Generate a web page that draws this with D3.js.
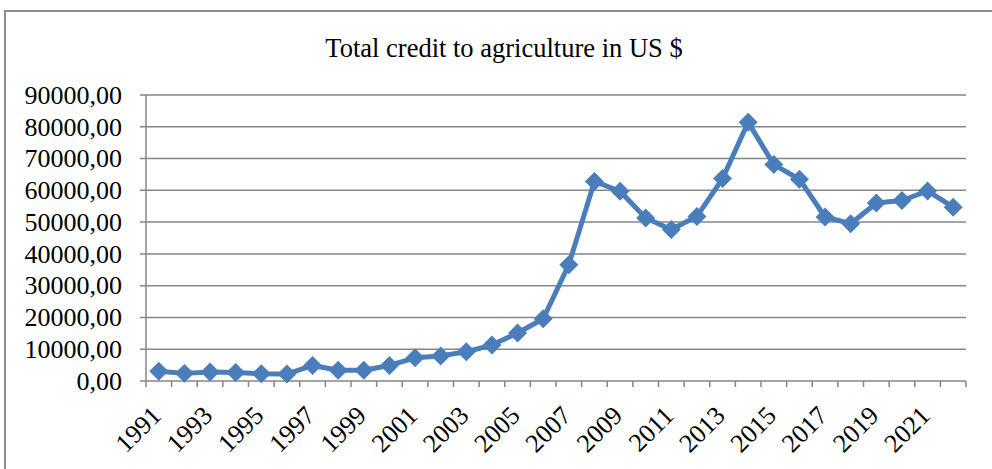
<!DOCTYPE html>
<html>
<head>
<meta charset="utf-8">
<script src="https://cdn.jsdelivr.net/npm/d3@7"></script>
<style>
  body { margin: 0; background: #fff; }
  svg text { font-family: "Liberation Serif", "Times New Roman", serif; fill: #000; }
</style>
</head>
<body>
<div class="chart"></div>
<script>
/* Global Constants
============================================= */
const SVG_WIDTH = 992;
const SVG_HEIGHT = 469;

const TITLE = "Total credit to agriculture in US $";

// chart data
const years = [1991, 1992, 1993, 1994, 1995, 1996, 1997, 1998, 1999, 2000,
               2001, 2002, 2003, 2004, 2005, 2006, 2007, 2008, 2009, 2010,
               2011, 2012, 2013, 2014, 2015, 2016, 2017, 2018, 2019, 2020,
               2021, 2022];
const credit = [3100, 2400, 2800, 2700, 2300, 2200, 4900, 3400, 3400, 4900,
                7300, 7900, 9200, 11300, 15100, 19600, 36600, 62800, 59700, 51300,
                47700, 51800, 63700, 81400, 68100, 63500, 51600, 49500, 56000, 56800,
                59800, 54700];
const yTicks = [0, 10000, 20000, 30000, 40000, 50000, 60000, 70000, 80000, 90000];
const xTickLabels = [1991, 1993, 1995, 1997, 1999, 2001, 2003, 2005, 2007, 2009,
                     2011, 2013, 2015, 2017, 2019, 2021];

const LINE_COLOR = "#4a7ebb";
const GRID_COLOR = "#868686";

var margin = { top: 95, bottom: 88, left: 146, right: 26 };
var width = SVG_WIDTH - margin.left - margin.right;
var height = SVG_HEIGHT - margin.top - margin.bottom;

var svg = d3.select(".chart")
    .append("svg")
    .attr("width", SVG_WIDTH)
    .attr("height", SVG_HEIGHT);

// outer chart frame
svg.append("path")
    .attr("d", `M5,${SVG_HEIGHT + 5} L5,11 L${SVG_WIDTH + 5},11`)
    .attr("fill", "none")
    .attr("stroke", "#8c8c8c")
    .attr("stroke-width", 2);

svg.append("text")
    .attr("x", 504)
    .attr("y", 57)
    .attr("text-anchor", "middle")
    .style("font-size", "26.5px")
    .text(TITLE);

var chart = svg.append("g")
    .attr("transform", `translate(${margin.left}, ${margin.top})`);

// scales
var xBand = d3.scaleBand().domain(years).range([0, width]);
var yLinearScale = d3.scaleLinear().domain([0, 90000]).range([height, 0]);

// gridlines
chart.append("g")
    .selectAll("line")
    .data(yTicks)
    .enter()
    .append("line")
    .attr("x1", -6)
    .attr("x2", width)
    .attr("y1", d => yLinearScale(d))
    .attr("y2", d => yLinearScale(d))
    .attr("stroke", GRID_COLOR)
    .attr("stroke-width", 1.5);

// y axis
var leftAxis = d3.axisLeft(yLinearScale)
    .tickValues(yTicks)
    .tickSize(0)
    .tickPadding(24)
    .tickFormat(d => d3.format(".2f")(d).replace(".", ","));

var yAxis = chart.append("g").call(leftAxis);
yAxis.select(".domain").remove();
yAxis.selectAll("text").style("font-size", "26px");

chart.append("line")
    .attr("x1", 0).attr("x2", 0)
    .attr("y1", 0).attr("y2", height)
    .attr("stroke", GRID_COLOR)
    .attr("stroke-width", 1.5);

// x axis ticks at category boundaries
var boundaries = d3.range(years.length + 1).map(i => i * xBand.step());
chart.append("g")
    .selectAll("line")
    .data(boundaries)
    .enter()
    .append("line")
    .attr("x1", d => d).attr("x2", d => d)
    .attr("y1", height).attr("y2", height + 6)
    .attr("stroke", GRID_COLOR)
    .attr("stroke-width", 1.5);

// x labels
chart.append("g")
    .selectAll("text")
    .data(xTickLabels)
    .enter()
    .append("text")
    .attr("text-anchor", "end")
    .attr("transform", d => {
        var x = xBand(d) + xBand.bandwidth() / 2 + 4;
        return `translate(${x}, ${height + 36}) rotate(-45)`;
    })
    .style("font-size", "26px")
    .text(d => d);

// line
var line = d3.line()
    .x((d, i) => xBand(years[i]) + xBand.bandwidth() / 2)
    .y(d => yLinearScale(d));

chart.append("path")
    .datum(credit)
    .attr("d", line)
    .attr("fill", "none")
    .attr("stroke", LINE_COLOR)
    .attr("stroke-width", 5)
    .attr("stroke-linejoin", "round");

// diamond markers
var diamond = d3.symbol().type(d3.symbolDiamond2).size(230);
chart.append("g")
    .selectAll("path")
    .data(credit)
    .enter()
    .append("path")
    .attr("d", diamond)
    .attr("transform", (d, i) =>
        `translate(${xBand(years[i]) + xBand.bandwidth() / 2}, ${yLinearScale(d)})`)
    .attr("fill", LINE_COLOR);
</script>
</body>
</html>
